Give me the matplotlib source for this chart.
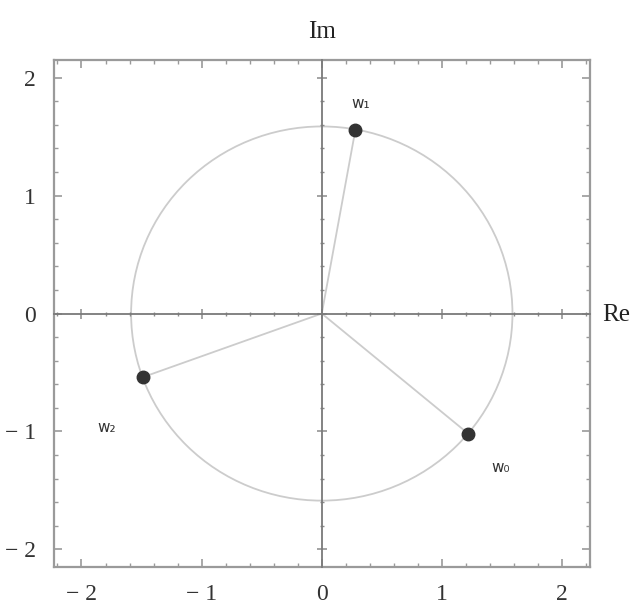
import matplotlib.pyplot as plt
from matplotlib.patches import Circle
from matplotlib.ticker import MultipleLocator

# cube roots shown on the plane
names = ["w\u2080", "w\u2081", "w\u2082"]
re_vals = [1.22, 0.28, -1.49]
im_vals = [-1.02, 1.56, -0.54]
radius = 1.587
label_offsets = [(23, -24), (4, 19), (-26, -36)]  # in points

ticks = [-2, -1, 0, 1, 2]
tick_labels = ["\u2212 2", "\u2212 1", "0", "1", "2"]

plt.rcParams["font.family"] = ["Liberation Serif", "DejaVu Serif"]

fig = plt.figure(figsize=(6.41, 6.10), dpi=100)
pos = [0.084, 0.0705, 0.836, 0.831]
ax = fig.add_axes(pos)
ax.set_xlim(-2.23, 2.23)
ax.set_ylim(-2.15, 2.15)

frame_c = "#9a9a9a"
for sp in ax.spines.values():
    sp.set_color(frame_c)
    sp.set_linewidth(1.6)

ax.set_xticks(ticks)
ax.set_yticks(ticks)
ax.set_xticklabels(tick_labels)
ax.set_yticklabels(tick_labels)
ax.xaxis.set_minor_locator(MultipleLocator(0.2))
ax.yaxis.set_minor_locator(MultipleLocator(0.2))
ax.tick_params(which="both", direction="in", top=True, right=True, color=frame_c,
               labelsize=17, labelcolor="#333333")
ax.tick_params(which="major", length=6, width=1.2)
ax.tick_params(axis="x", which="major", pad=12)
ax.tick_params(axis="y", which="major", pad=13)
ax.tick_params(which="minor", length=3, width=1.0)

# axes through the origin, with their own small ticks
ax0 = fig.add_axes(pos, sharex=ax, sharey=ax)
ax0.patch.set_visible(False)
ax0.spines["top"].set_visible(False)
ax0.spines["right"].set_visible(False)
for side in ("left", "bottom"):
    ax0.spines[side].set_position("zero")
    ax0.spines[side].set_color("#7a7a7a")
    ax0.spines[side].set_linewidth(1.3)
ax0.tick_params(which="both", direction="inout", color="#8a8a8a",
                labelbottom=False, labelleft=False)
ax0.tick_params(which="major", length=7, width=1.1)
ax0.tick_params(which="minor", length=3, width=1.0)

ax.add_patch(Circle((0, 0), radius, fill=False, ec="#cccccc", lw=1.3, zorder=2))

for x, y in zip(re_vals, im_vals):
    ax.plot([0, x], [0, y], color="#cccccc", lw=1.3, zorder=2)

ax0.plot(re_vals, im_vals, "o", color="#333333", ms=9, zorder=3)

for name, x, y, off in zip(names, re_vals, im_vals, label_offsets):
    ax0.annotate(name, (x, y), xytext=off, textcoords="offset points",
                 ha="center", va="center", fontsize=11, color="#333333",
                 family="DejaVu Sans")

fig.text(0.502, 0.948, "Im", ha="center", va="center", fontsize=18, color="#222222")
fig.text(0.94, 0.483, "Re", ha="left", va="center", fontsize=18, color="#222222")

fig.savefig("out.png", dpi=100)
